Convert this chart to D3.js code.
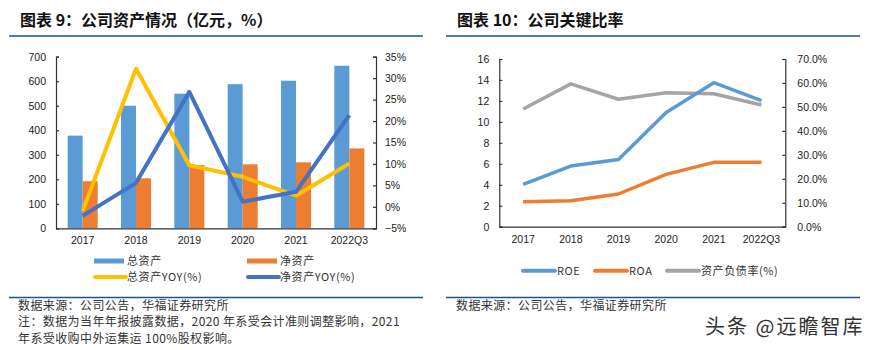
<!DOCTYPE html>
<html>
<head>
<meta charset="utf-8">
<script src="https://cdn.jsdelivr.net/npm/d3@7"></script>
<style>
  body { margin: 0; background: #fff; }
  svg { display: block; }
  .tick text { font-family: "Liberation Sans", Arial, sans-serif; font-size: 10.5px; fill: #222; }
  .cjk { font-family: "Noto Sans CJK SC", sans-serif; }
</style>
</head>
<body>
<div id="chart"></div>
<script>
// data
const years = ['2017', '2018', '2019', '2020', '2021', '2022Q3'];
const totalAssets = [378, 500, 549, 588, 602, 663];
const netAssets = [192, 204, 258, 261, 269, 326];
const totalYoy = [-1.0, 32.2, 9.7, 7.0, 2.6, 10.1];
const netYoy = [-2.1, 5.6, 26.8, 1.2, 3.5, 21.4];
const roe = [4.04, 5.79, 6.42, 10.9, 13.74, 12.02];
const roa = [2.39, 2.48, 3.12, 4.99, 6.14, 6.14];
const debtRatio = [49.1, 59.6, 53.2, 55.9, 55.5, 50.8];
const leftTicks1 = [0, 100, 200, 300, 400, 500, 600, 700];
const rightTicks1 = [-5, 0, 5, 10, 15, 20, 25, 30, 35];
const leftTicks2 = [0, 2, 4, 6, 8, 10, 12, 14, 16];
const rightTicks2 = [0, 10, 20, 30, 40, 50, 60, 70];

const width = 877, height = 350;
const svg = d3.select('#chart').append('svg')
  .attr('width', width).attr('height', height);

const navy = '#1f4e9c';
const colors = { blue: '#5b9bd5', orange: '#ed7d31', yellow: '#ffc000', dblue: '#4472c4', gray: '#a5a5a5' };

// titles + separators
const header = (x, title, x1, x2) => {
  svg.append('text').attr('class', 'cjk')
    .attr('x', x).attr('y', 26)
    .attr('font-size', 16).attr('font-weight', 'bold').attr('fill', '#111')
    .text(title);
  svg.append('line').attr('x1', x1).attr('x2', x2).attr('y1', 36).attr('y2', 36)
    .attr('stroke', navy).attr('stroke-width', 1.3);
  svg.append('line').attr('x1', x1).attr('x2', x2).attr('y1', 297.5).attr('y2', 297.5)
    .attr('stroke', navy).attr('stroke-width', 1.3);
};
header(20, '图表 9：公司资产情况（亿元，%）', 9, 423);
header(457, '图表 10：公司关键比率', 446, 860);

const styleAxis = g => {
  g.selectAll('.domain').attr('stroke', '#333').attr('stroke-width', 1.2);
  g.selectAll('.tick line').attr('stroke', '#333').attr('stroke-width', 1.2);
};

// ---- chart 1 ----
const x1 = d3.scaleBand().domain(years).range([56, 376]);
const y1L = d3.scaleLinear().domain([0, 700]).range([228.3, 56.7]);
const y1R = d3.scaleLinear().domain([-5, 35]).range([228.3, 56.7]);
const barW = 15;

const g1 = svg.append('g');
g1.selectAll('rect.total').data(years).enter().append('rect')
  .attr('x', d => x1(d) + x1.bandwidth() / 2 - barW)
  .attr('y', (d, i) => y1L(totalAssets[i]))
  .attr('width', barW)
  .attr('height', (d, i) => y1L(0) - y1L(totalAssets[i]))
  .attr('fill', colors.blue);
g1.selectAll('rect.net').data(years).enter().append('rect')
  .attr('x', d => x1(d) + x1.bandwidth() / 2)
  .attr('y', (d, i) => y1L(netAssets[i]))
  .attr('width', barW)
  .attr('height', (d, i) => y1L(0) - y1L(netAssets[i]))
  .attr('fill', colors.orange);

const line1 = vals => d3.line()
  .x((d, i) => x1(years[i]) + x1.bandwidth() / 2)
  .y(d => y1R(d))(vals);
g1.append('path').attr('d', line1(totalYoy)).attr('fill', 'none')
  .attr('stroke', colors.yellow).attr('stroke-width', 4).attr('stroke-linejoin', 'round');
g1.append('path').attr('d', line1(netYoy)).attr('fill', 'none')
  .attr('stroke', colors.dblue).attr('stroke-width', 4).attr('stroke-linejoin', 'round');

g1.append('g').attr('transform', 'translate(56,0)')
  .call(d3.axisLeft(y1L).tickValues(leftTicks1).tickSize(-3).tickPadding(10))
  .call(styleAxis);
g1.append('g').attr('transform', 'translate(376,0)')
  .call(d3.axisRight(y1R).tickValues(rightTicks1).tickSize(-3).tickPadding(9)
    .tickFormat(d => (d < 0 ? '\u2212' + (-d) : d) + '%'))
  .call(styleAxis);
g1.append('g').attr('transform', 'translate(0,228.3)')
  .call(d3.axisBottom(x1).tickSize(0).tickPadding(8))
  .call(styleAxis);

// legend 1
const legend1 = [
  { x: 94, y: 261, label: '总资产', color: colors.blue, type: 'rect' },
  { x: 247, y: 261, label: '净资产', color: colors.orange, type: 'rect' },
  { x: 94, y: 277, label: '总资产YOY(%)', color: colors.yellow, type: 'line' },
  { x: 247, y: 277, label: '净资产YOY(%)', color: colors.dblue, type: 'line' }
];
legend1.forEach(l => {
  if (l.type === 'rect') {
    svg.append('rect').attr('x', l.x).attr('y', l.y - 2.5).attr('width', 30).attr('height', 5).attr('fill', l.color);
  } else {
    svg.append('line').attr('x1', l.x + 1).attr('x2', l.x + 32).attr('y1', l.y).attr('y2', l.y)
      .attr('stroke', l.color).attr('stroke-width', 4).attr('stroke-linecap', 'round');
  }
  svg.append('text').attr('class', 'cjk').attr('x', l.x + 33).attr('y', l.y + 4)
    .attr('font-size', 11).attr('fill', '#333').attr('letter-spacing', 0.6).text(l.label);
});

// sources
const src = (x, y, t) => svg.append('text').attr('class', 'cjk')
  .attr('x', x).attr('y', y).attr('font-size', 12).attr('fill', '#333')
  .attr('letter-spacing', 0.4).text(t);
src(18, 309.5, '数据来源：公司公告，华福证券研究所');
src(18, 326, '注：数据为当年年报披露数据，2020 年系受会计准则调整影响，2021');
src(18, 342.5, '年系受收购中外运集运 100%股权影响。');
src(456, 310, '数据来源：公司公告，华福证券研究所');

// ---- chart 2 ----
const x2 = d3.scaleBand().domain(years).range([499.3, 785.3]);
const y2L = d3.scaleLinear().domain([0, 16]).range([226.7, 59]);
const y2R = d3.scaleLinear().domain([0, 70]).range([226.7, 59]);
const g2 = svg.append('g');
const line2 = (vals, ys) => d3.line()
  .x((d, i) => x2(years[i]) + x2.bandwidth() / 2)
  .y(d => ys(d))(vals);
g2.append('path').attr('d', line2(debtRatio, y2R)).attr('fill', 'none')
  .attr('stroke', colors.gray).attr('stroke-width', 3.5).attr('stroke-linejoin', 'round');
g2.append('path').attr('d', line2(roe, y2L)).attr('fill', 'none')
  .attr('stroke', colors.blue).attr('stroke-width', 3.5).attr('stroke-linejoin', 'round');
g2.append('path').attr('d', line2(roa, y2L)).attr('fill', 'none')
  .attr('stroke', colors.orange).attr('stroke-width', 3.5).attr('stroke-linejoin', 'round');

g2.append('g').attr('transform', 'translate(499.3,0)')
  .call(d3.axisLeft(y2L).tickValues(leftTicks2).tickSize(-3).tickPadding(10))
  .call(styleAxis);
g2.append('g').attr('transform', 'translate(785.3,0)')
  .call(d3.axisRight(y2R).tickValues(rightTicks2).tickSize(-3).tickPadding(12)
    .tickFormat(d => d.toFixed(1) + '%'))
  .call(styleAxis);
g2.append('g').attr('transform', 'translate(0,226.7)')
  .call(d3.axisBottom(x2).tickSize(0).tickPadding(9))
  .call(styleAxis);

// legend 2
const legend2 = [
  { x: 522, label: 'ROE', color: colors.blue },
  { x: 594, label: 'ROA', color: colors.orange },
  { x: 666, label: '资产负债率(%)', color: colors.gray }
];
legend2.forEach(l => {
  svg.append('line').attr('x1', l.x + 1).attr('x2', l.x + 33).attr('y1', 270.7).attr('y2', 270.7)
    .attr('stroke', l.color).attr('stroke-width', 4).attr('stroke-linecap', 'round');
  svg.append('text').attr('class', 'cjk').attr('x', l.x + 35).attr('y', 275)
    .attr('font-size', 11).attr('fill', '#333').attr('letter-spacing', 0.6).text(l.label);
});

// watermark
svg.append('text').attr('class', 'cjk').attr('x', 705).attr('y', 334)
  .attr('font-size', 20).attr('fill', '#333').attr('letter-spacing', 2).text('头条 @远瞻智库');
</script>
</body>
</html>
